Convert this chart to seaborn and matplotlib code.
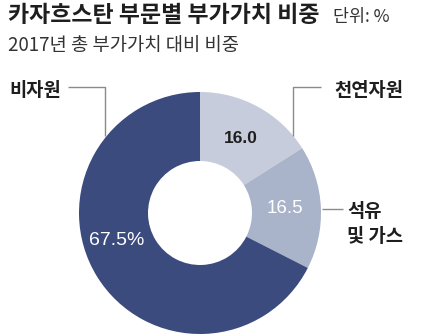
import matplotlib
matplotlib.use("Agg")
import matplotlib.pyplot as plt
import seaborn as sns
import numpy as np

# Value-added shares by sector, Kazakhstan 2017 (%)
categories = ["천연자원", "석유\n및 가스", "비자원"]
shares = [16.0, 16.5, 67.5]
value_labels = ["16.0", "16.5", "67.5%"]
colors = ["#c7ccdc", "#a9b3c9", "#3c4b7d"]
value_colors = ["#1e1e1e", "#ffffff", "#ffffff"]

title = "카자흐스탄 부문별 부가가치 비중"
unit = "단위: %"
subtitle = "2017년 총 부가가치 대비 비중"

sns.set_theme(style="white")
KR = ["Noto Sans CJK KR", "DejaVu Sans"]
NUM = ["Liberation Sans Narrow", "Liberation Sans", "DejaVu Sans"]
plt.rcParams["font.family"] = KR

W, H = 422, 336
fig = plt.figure(figsize=(W / 100, H / 100), dpi=100)
fig.patch.set_facecolor("white")
ax = fig.add_axes([0, 0, 1, 1])

# Donut in pixel-like data coordinates (y up)
cx, cy, R, r_in = 200, H - 213, 121, 52
wedges, _ = ax.pie(
    shares, colors=colors, startangle=90, counterclock=False,
    center=(cx, cy), radius=R,
    wedgeprops=dict(width=R - r_in, linewidth=0),
)
ax.set_xlim(0, W)
ax.set_ylim(0, H)
ax.set_aspect("equal")
ax.axis("off")

# Value labels inside the ring
cum = np.cumsum([0] + shares[:-1])
mid_r = (R + r_in) / 2 - 1
sizes = [12.5, 13.5, 14]
for i, (s, c0) in enumerate(zip(shares, cum)):
    ang = np.deg2rad(90 - (c0 + s / 2) * 3.6)
    rr = mid_r
    if i == 2:
        ang = np.deg2rad(-161.5)
        rr = 88
    x = cx + rr * np.cos(ang)
    y = cy + rr * np.sin(ang)
    ax.text(x, y, value_labels[i], ha="center", va="center", fontsize=sizes[i],
            color=value_colors[i], family=NUM,
            fontweight="bold" if i == 0 else "normal")

line_kw = dict(color="#8a8a8a", lw=1.0, solid_capstyle="butt")
lab_kw = dict(fontsize=13.5, fontweight="bold", color="#1e1e1e", va="center")

# 천연자원 leader
ex, ey = 293, H - 136
ax.plot([ex, ex, 321], [ey, H - 87, H - 87], **line_kw)
ax.text(334, H - 90, categories[0], ha="left", **lab_kw)

# 석유 및 가스 leader
ax.plot([322, 343], [H - 209, H - 209], **line_kw)
ax.text(347, H - 224, categories[1], ha="left", linespacing=1.35, **lab_kw)

# 비자원 leader
ax.plot([68, 105, 105], [H - 87, H - 87, H - 136], **line_kw)
ax.text(9, H - 90, categories[2], ha="left", **lab_kw)

# Titles
fig.text(8 / W, 1 - 16 / H, title, fontsize=16.5, fontweight="bold",
         color="#1e1e1e", va="center", ha="left")
fig.text(333 / W, 1 - 17 / H, unit, fontsize=12.5, color="#333333",
         va="center", ha="left")
fig.text(8 / W, 1 - 46 / H, subtitle, fontsize=13.5, color="#333333",
         va="center", ha="left")

fig.savefig("out.png", dpi=100, facecolor="white")
